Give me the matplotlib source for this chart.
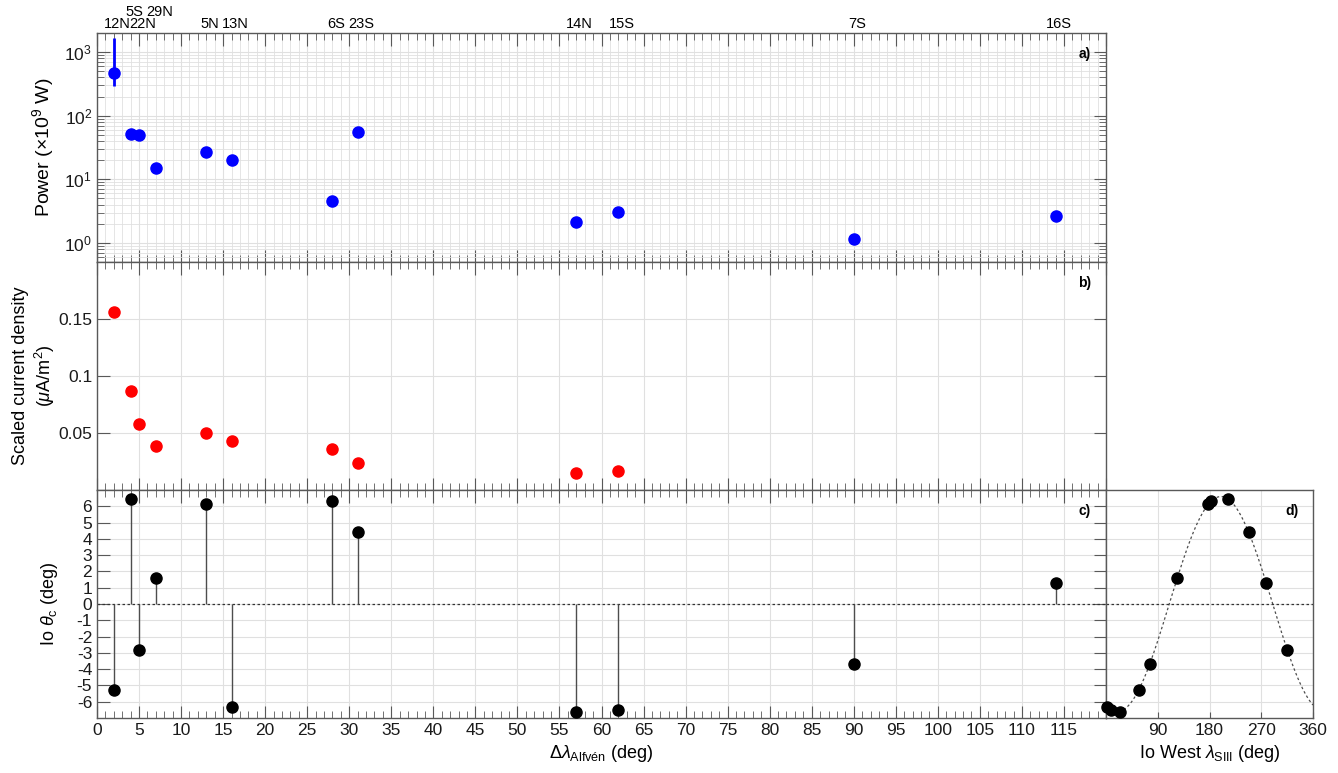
import numpy as np
import matplotlib
matplotlib.use('Agg')
import matplotlib.pyplot as plt
from matplotlib.ticker import MultipleLocator, LogLocator, NullFormatter, FixedLocator

plt.rcParams['font.family'] = ['Liberation Sans', 'DejaVu Sans']
plt.rcParams['mathtext.fontset'] = 'custom'
plt.rcParams['mathtext.rm'] = 'Liberation Sans'
plt.rcParams['mathtext.it'] = 'Liberation Sans:italic'
plt.rcParams['mathtext.bf'] = 'Liberation Sans:bold'
plt.rcParams['axes.unicode_minus'] = False

# Footprint crossings (moon tail labels) and their values
labels = ['12N', '5S', '22N', '29N', '5N', '13N', '6S', '23S', '14N', '15S', '7S', '16S']
label_row = [0, 1, 0, 1, 0, 0, 0, 0, 0, 0, 0, 0]
dlon = [2, 4, 5, 7, 13, 16, 28, 31, 57, 62, 90, 114]
power = [462, 52, 49, 15, 27, 20, 4.6, 55, 2.1, 3.1, 1.17, 2.6]
power_err_lo = 297   # only 12N has an error bar
power_err_hi = 1660
# current density only for the first ten crossings
jdens_dlon = [2, 4, 5, 7, 13, 16, 28, 31, 57, 62]
jdens = [0.156, 0.087, 0.0576, 0.0384, 0.0503, 0.0433, 0.0358, 0.0239, 0.0145, 0.0165]
theta_c = [-5.28, 6.46, -2.8, 1.6, 6.13, -6.34, 6.32, 4.45, -6.65, -6.5, -3.7, 1.3]
io_lon = [57, 213, 315, 124, 178, 2, 183, 248, 24, 8, 77, 279]

# centrifugal latitude model for panel d
theta_amp = 6.6
theta_peak = 200.0

axcol = '0.35'
gridcol = '0.88'
fs = 12.5
lfs = 13

fig = plt.figure(figsize=(13.38, 7.73), dpi=100)
L, R = 97 / 1338, 1106 / 1338
Rd = 1313 / 1338
H = 773.0
def ypos(top, bot):
    return 1 - bot / H, (bot - top) / H

b0, h0 = ypos(33, 262)
b1, h1 = ypos(262, 490)
b2, h2 = ypos(490, 718)
axa = fig.add_axes([L, b0, R - L, h0])
axb = fig.add_axes([L, b1, R - L, h1])
axc = fig.add_axes([L, b2, R - L, h2])
axd = fig.add_axes([R, b2, Rd - R, h2])

def style(ax):
    for s in ax.spines.values():
        s.set_color(axcol)
        s.set_linewidth(1.0)
    ax.tick_params(which='both', direction='in', top=True, right=True,
                   colors=axcol, labelcolor='0.1', labelsize=fs)
    ax.tick_params(which='major', length=9)
    ax.tick_params(which='minor', length=5)
    ax.set_axisbelow(True)

for ax in (axa, axb, axc):
    style(ax)
    ax.set_xlim(0, 120)
    ax.xaxis.set_major_locator(MultipleLocator(5))
    ax.xaxis.set_minor_locator(MultipleLocator(1))

# ---- a) power
axa.set_yscale('log')
axa.set_ylim(0.5, 2000)
axa.yaxis.set_major_locator(LogLocator(base=10, numticks=10))
axa.yaxis.set_minor_locator(LogLocator(base=10, subs=np.arange(2, 10), numticks=10))
axa.yaxis.set_minor_formatter(NullFormatter())
axa.grid(True, which='major', color=gridcol, lw=0.8)
axa.grid(True, which='minor', color=gridcol, lw=0.6)
axa.errorbar([dlon[0]], [power[0]],
             yerr=[[power[0] - power_err_lo], [power_err_hi - power[0]]],
             fmt='none', ecolor='blue', elinewidth=2, capsize=0, zorder=3)
axa.plot(dlon, power, 'o', color='blue', ms=8, zorder=4)
axa.set_xticklabels([])
axa.set_ylabel('Power (×10$^9$ W)', fontsize=lfs + 1, labelpad=6)
axa.text(0.985, 0.94, 'a)', transform=axa.transAxes, ha='right', va='top',
         fontsize=10, fontweight='bold')
for lab, x, row in zip(labels, dlon, label_row):
    axa.text(x + 0.4, 1.008 + row * 0.055, lab, transform=axa.get_xaxis_transform(),
             ha='center', va='bottom', fontsize=10.5)

# ---- b) current density
axb.set_ylim(0, 0.2)
axb.yaxis.set_major_locator(FixedLocator([0.05, 0.1, 0.15]))
axb.set_yticklabels(['0.05', '0.1', '0.15'])
axb.grid(True, which='major', color=gridcol, lw=0.8)
axb.plot(jdens_dlon, jdens, 'o', color='red', ms=8, zorder=4)
axb.set_xticklabels([])
axb.set_ylabel('Scaled current density\n($\\mu$A/m$^2$)', fontsize=lfs, labelpad=1)
axb.text(0.985, 0.94, 'b)', transform=axb.transAxes, ha='right', va='top',
         fontsize=10, fontweight='bold')

# ---- c) centrifugal latitude vs Alfven lag
axc.set_ylim(-7, 7)
yt = list(range(-6, 7))
axc.yaxis.set_major_locator(FixedLocator(yt))
axc.set_yticklabels([str(v) for v in yt])
axc.grid(True, which='major', color=gridcol, lw=0.8)
axc.axhline(0, color='0.2', lw=0.9, ls=(0, (2, 2)), zorder=2)
axc.vlines(dlon, 0, theta_c, color='0.3', lw=1.0, zorder=3)
axc.plot(dlon, theta_c, 'o', color='black', ms=8, zorder=4)
xt = list(range(0, 120, 5))
axc.set_xticks(xt)
axc.set_xticklabels([str(v) for v in xt])
axc.set_xlabel('$\\Delta\\lambda_{\\mathrm{Alfvén}}$ (deg)', fontsize=lfs)
axc.set_ylabel('Io $\\theta_{\\mathrm{c}}$ (deg)', fontsize=lfs, labelpad=12)
axc.text(0.985, 0.94, 'c)', transform=axc.transAxes, ha='right', va='top',
         fontsize=10, fontweight='bold')

# ---- d) centrifugal latitude vs Io longitude
style(axd)
axd.set_xlim(0, 360)
axd.set_ylim(-7, 7)
axd.set_xticks([90, 180, 270, 360])
axd.set_xticklabels(['90', '180', '270', '360'])
axd.yaxis.set_major_locator(FixedLocator(yt))
axd.tick_params(axis='y', which='both', left=False, right=False, labelleft=False)
axd.tick_params(axis='x', which='both', top=False, length=4)
axd.grid(True, which='major', color=gridcol, lw=0.8)
lon_model = np.linspace(0, 360, 361)
axd.plot(lon_model, theta_amp * np.cos(np.radians(lon_model - theta_peak)),
         color='0.3', lw=0.9, ls=(0, (2, 2)), zorder=2)
axd.axhline(0, color='0.2', lw=0.9, ls=(0, (2, 2)), zorder=2)
axd.plot(io_lon, theta_c, 'o', color='black', ms=8, zorder=4, clip_on=False)
axd.set_xlabel('Io West $\\lambda_{\\mathrm{SIII}}$ (deg)', fontsize=lfs)
axd.text(0.93, 0.94, 'd)', transform=axd.transAxes, ha='right', va='top',
         fontsize=10, fontweight='bold')

fig.savefig('out.png', dpi=100)
